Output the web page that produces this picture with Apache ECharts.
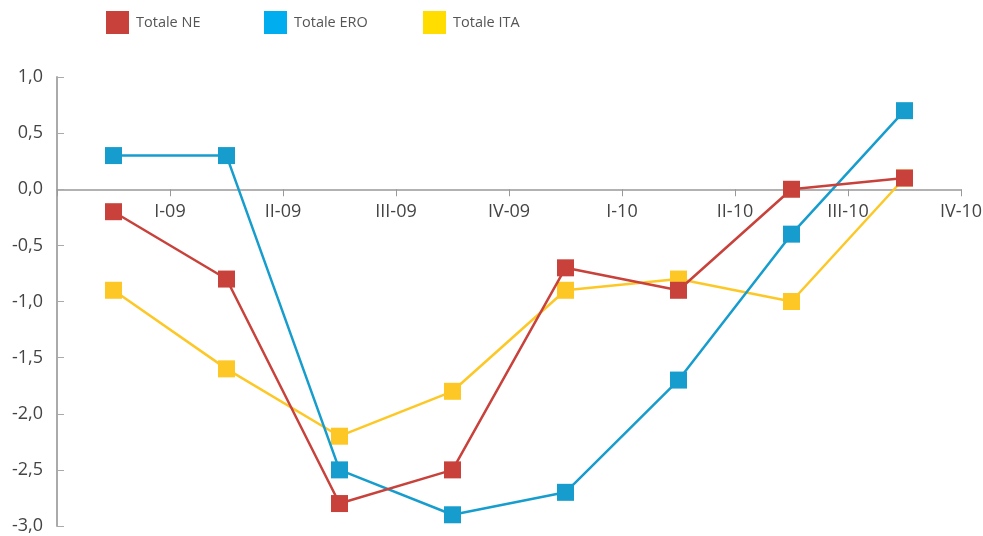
<!DOCTYPE html>
<html>
<head>
<meta charset="utf-8">
<script src="https://cdn.jsdelivr.net/npm/echarts@6/dist/echarts.min.js"></script>
<style>html,body{margin:0;padding:0;background:#fff;}#c{width:983px;height:536px;}</style>
</head>
<body>
<div id="c"></div>
<script>
const categories = ['I-09','II-09','III-09','IV-09','I-10','II-10','III-10','IV-10'];
const totaleNE  = [-0.2, -0.8, -2.8, -2.5, -0.7, -0.9, 0.0, 0.1];
const totaleERO = [0.3, 0.3, -2.5, -2.9, -2.7, -1.7, -0.4, 0.7];
const totaleITA = [-0.9, -1.6, -2.2, -1.8, -0.9, -0.8, -1.0, 0.1];
const yTicks = { min: -3, max: 1, interval: 0.5 };

const FONT = '"Open Sans", "Liberation Sans", sans-serif';
const GRID_TOP = 77, GRID_BOTTOM = 10, H = 536;
const plotH = H - GRID_TOP - GRID_BOTTOM;
// distance from plot bottom to zero line, via the y scale range
const zeroOffset = -plotH * (0 - yTicks.min) / (yTicks.max - yTicks.min);

const chart = echarts.init(document.getElementById('c'));

function legendAt(left, name, color) {
  return {
    left: left, top: 11, padding: 0, itemWidth: 23, itemHeight: 23, itemGap: 0,
    icon: 'rect', selectedMode: false,
    textStyle: { fontFamily: FONT, fontSize: 14.5, color: '#555', padding: [0,0,0,2] },
    data: [{ name: name, itemStyle: { color: color } }]
  };
}

function lineSeries(name, data, color, z) {
  return {
    name: name, type: 'line', data: data, z: z,
    symbol: 'rect', symbolSize: 17,
    lineStyle: { color: color, width: 2.5 },
    itemStyle: { color: color },
    emphasis: { disabled: true },
    animation: false
  };
}

chart.setOption({
  animation: false,
  legend: [
    legendAt(106, 'Totale NE', '#c8413a'),
    legendAt(264, 'Totale ERO', '#00aeef'),
    legendAt(423, 'Totale ITA', '#ffdd00')
  ],
  grid: { left: 57, right: 22, top: GRID_TOP, bottom: GRID_BOTTOM, containLabel: false, outerBoundsMode: 'none' },
  xAxis: {
    type: 'category', data: categories, boundaryGap: true,
    position: 'bottom', offset: zeroOffset,
    axisLine: { onZero: false, lineStyle: { color: '#999', width: 1.5 } },
    axisTick: { show: true, length: 7, lineStyle: { color: '#999', width: 1 } },
    axisLabel: {
      interval: 0, margin: 14, fontFamily: FONT, fontSize: 18, color: '#444',
      padding: [0, 0, 0, 113]
    },
    splitLine: { show: false }
  },
  yAxis: {
    type: 'value', min: yTicks.min, max: yTicks.max, interval: yTicks.interval,
    axisLine: { show: true, lineStyle: { color: '#aaa', width: 2 } },
    axisTick: { show: true, inside: true, length: 7, lineStyle: { color: '#aaa', width: 1 } },
    axisLabel: {
      margin: 14, fontFamily: FONT, fontSize: 18, color: '#444',
      formatter: v => v.toFixed(1).replace('.', ',')
    },
    splitLine: { show: false }
  },
  series: [
    lineSeries('Totale NE', totaleNE, '#c8413a', 4),
    lineSeries('Totale ERO', totaleERO, '#169dcd', 3),
    lineSeries('Totale ITA', totaleITA, '#fdc826', 2)
  ]
});
</script>
</body>
</html>
